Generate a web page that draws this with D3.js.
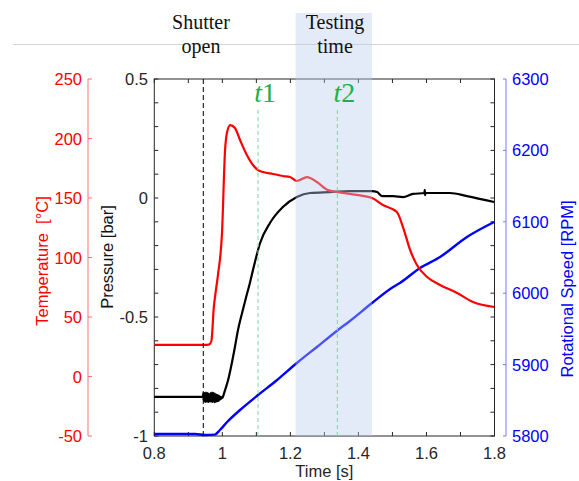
<!DOCTYPE html>
<html><head><meta charset="utf-8">
<script src="https://cdn.jsdelivr.net/npm/d3@7"></script>
<style>body{margin:0;background:#fff}svg{display:block}</style>
</head><body><svg id="c" width="579" height="481"></svg>
<script>
// ---- data ----
const tempT = [0.80,0.949,0.962,0.968,0.971,0.974,0.979,0.987,0.999,1.008,1.014,1.023,1.037,1.052,1.072,1.090,1.105,1.120,1.149,1.178,1.199,1.219,1.249,1.278,1.310,1.340,1.375,1.440,1.472,1.513,1.531,1.552,1.572,1.602,1.640,1.690,1.737,1.799];
const tempV = [26.5,26.5,27,30,40,55,68,85,120.6,190.3,205.5,211.3,208.8,198.7,186.1,177.7,173.5,171.8,170.2,168.5,167.6,164.3,167.6,163.4,156.7,155.0,153.4,150.0,144.1,138.2,125.6,106.3,93.7,83.6,76.9,70.2,62.6,58.4];

const presT = [0.80,0.943,0.944,0.945,0.946,0.947,0.948,0.949,0.950,0.951,0.952,0.953,0.954,0.955,0.956,0.957,0.958,0.959,0.960,0.961,0.962,0.963,0.964,0.965,0.966,0.967,0.968,0.969,0.970,0.971,0.972,0.973,0.974,0.975,0.976,0.977,0.978,0.979,0.980,0.981,0.982,0.983,0.984,0.985,0.986,0.987,0.988,0.989,0.990,0.991,0.992,0.993,0.994,0.995,0.996,0.997,0.998,1.000,1.003,1.008,1.017,1.028,1.037,1.046,1.058,1.070,1.081,1.090,1.111,1.140,1.178,1.219,1.258,1.316,1.375,1.440,1.455,1.469,1.502,1.531,1.560,1.594,1.595,1.596,1.597,1.669,1.719,1.799];
const presV = [-0.836,-0.836,-0.82,-0.85,-0.825,-0.855,-0.82,-0.852,-0.83,-0.857,-0.818,-0.85,-0.826,-0.856,-0.82,-0.853,-0.828,-0.857,-0.822,-0.852,-0.83,-0.855,-0.825,-0.85,-0.82,-0.856,-0.824,-0.853,-0.818,-0.857,-0.826,-0.852,-0.82,-0.855,-0.828,-0.858,-0.822,-0.853,-0.83,-0.856,-0.826,-0.852,-0.83,-0.854,-0.828,-0.85,-0.832,-0.852,-0.83,-0.848,-0.834,-0.847,-0.835,-0.845,-0.836,-0.843,-0.838,-0.84,-0.83,-0.807,-0.765,-0.693,-0.626,-0.555,-0.483,-0.416,-0.357,-0.303,-0.189,-0.105,-0.038,0.004,0.021,0.025,0.029,0.029,0.025,0.008,0.008,0.004,0.017,0.021,0.034,0.012,0.021,0.021,0.008,-0.017];

const rpmT = [0.80,0.92,0.949,0.978,0.993,1.014,1.052,1.105,1.161,1.219,1.278,1.340,1.375,1.440,1.502,1.522,1.581,1.640,1.719,1.799];
const rpmV = [5802.8,5802.8,5801.4,5802,5808.4,5819.6,5836.4,5857.4,5878.4,5902.2,5924.7,5948.5,5961.1,5986.3,6008.7,6014.3,6035.3,6050.7,6078.7,6099.7];

const xTicks = [0.8,1,1.2,1.4,1.6,1.8];
const xMinor = [0.8,0.9,1.0,1.1,1.2,1.3,1.4,1.5,1.6,1.7,1.8];
const pTicks = [0.5,0,-0.5,-1];
const pMinor = [0.5,0.4,0.3,0.2,0.1,0,-0.1,-0.2,-0.3,-0.4,-0.5,-0.6,-0.7,-0.8,-0.9,-1];
const tTicks = [250,200,150,100,50,0,-50];
const rTicks = [6300,6200,6100,6000,5900,5800];
const shutterT = 0.944, t1T = 1.105, t2T = 1.338;
const bandT = [1.215, 1.440];

// ---- scales ----
const svg = d3.select('#c');
const x = d3.scaleLinear().domain([0.8,1.8]).range([154.3,494.5]);
const yP = d3.scaleLinear().domain([-1,0.5]).range([436,79]);
const yT = d3.scaleLinear().domain([-50,250]).range([436,79]);
const yR = d3.scaleLinear().domain([5800,6300]).range([436,79]);
const sans = 'Liberation Sans, Arial, sans-serif';
const serif = 'Liberation Serif, Times New Roman, serif';
const axc = '#262626';

// top gray line
svg.append('line').attr('x1',13).attr('x2',579).attr('y1',44.5).attr('y2',44.5).attr('stroke','#d4d4d4').attr('stroke-width',1);

// plot box
svg.append('rect').attr('x',x(0.8)).attr('y',yP(0.5)).attr('width',x(1.8)-x(0.8)).attr('height',yP(-1)-yP(0.5))
  .attr('fill','none').attr('stroke',axc).attr('stroke-width',1);
// ticks
const tk = svg.append('g').attr('stroke',axc).attr('stroke-width',1);
xMinor.forEach(v=>{
  tk.append('line').attr('x1',x(v)).attr('x2',x(v)).attr('y1',yP(-1)).attr('y2',yP(-1)-4);
  tk.append('line').attr('x1',x(v)).attr('x2',x(v)).attr('y1',yP(0.5)).attr('y2',yP(0.5)+4);
});
pMinor.forEach(v=>{
  tk.append('line').attr('x1',x(0.8)).attr('x2',x(0.8)+4).attr('y1',yP(v)).attr('y2',yP(v));
  tk.append('line').attr('x1',x(1.8)).attr('x2',x(1.8)-4).attr('y1',yP(v)).attr('y2',yP(v));
});
// x labels
xTicks.forEach(v=>svg.append('text').attr('x',x(v)).attr('y',459).attr('text-anchor','middle')
  .attr('font-family',sans).attr('font-size',16.5).attr('fill',axc).text(String(v)));
svg.append('text').attr('x',(x(0.8)+x(1.8))/2).attr('y',477).attr('text-anchor','middle')
  .attr('font-family',sans).attr('font-size',16.5).attr('fill',axc).text('Time [s]');
// pressure labels
pTicks.forEach(v=>svg.append('text').attr('x',148).attr('y',yP(v)+6).attr('text-anchor','end')
  .attr('font-family',sans).attr('font-size',16.5).attr('fill',axc).text(String(v)));
svg.append('text').attr('transform','translate(113,257) rotate(-90)').attr('text-anchor','middle')
  .attr('font-family',sans).attr('font-size',16.5).attr('fill','#111').text('Pressure [bar]');

// temperature axis
const tx = 88;
svg.append('line').attr('x1',tx).attr('x2',tx).attr('y1',yT(250)).attr('y2',yT(-50)).attr('stroke','#ff7070').attr('stroke-width',1);
tTicks.forEach(v=>{
  svg.append('line').attr('x1',tx).attr('x2',tx+4).attr('y1',yT(v)).attr('y2',yT(v)).attr('stroke','#ff7070');
  svg.append('text').attr('x',82).attr('y',yT(v)+6).attr('text-anchor','end')
   .attr('font-family',sans).attr('font-size',16.5).attr('fill','#ff0000').text(String(v));
});
svg.append('text').attr('transform','translate(48,261) rotate(-90)').attr('text-anchor','middle')
  .attr('font-family',sans).attr('font-size',16.5).attr('fill','#ff0000').style('white-space','pre').text('Temperature  [°C]');

// rpm axis
const rx = 506;
svg.append('line').attr('x1',rx).attr('x2',rx).attr('y1',yR(6300)).attr('y2',yR(5800)).attr('stroke','#7878ff').attr('stroke-width',1);
rTicks.forEach(v=>{
  svg.append('line').attr('x1',rx).attr('x2',rx-3).attr('y1',yR(v)).attr('y2',yR(v)).attr('stroke','#7878ff');
  svg.append('text').attr('x',512).attr('y',yR(v)+6).attr('text-anchor','start')
   .attr('font-family',sans).attr('font-size',16.5).attr('fill','#0000ff').text(String(v));
});
svg.append('text').attr('transform','translate(573,289) rotate(-90)').attr('text-anchor','middle')
  .attr('font-family',sans).attr('font-size',16.5).attr('fill','#0000ff').text('Rotational Speed [RPM]');

// curves
const line = (ys)=>d3.line().x(d=>x(d[0])).y(d=>ys(d[1])).curve(d3.curveMonotoneX);
svg.append('path').datum(rpmT.map((t,i)=>[t,rpmV[i]])).attr('d',line(yR)).attr('fill','none').attr('stroke','#0000ff').attr('stroke-width',2.4);
svg.append('path').datum(presT.map((t,i)=>[t,presV[i]])).attr('d',line(yP)).attr('fill','none').attr('stroke','#000').attr('stroke-width',2.2).attr('stroke-linejoin','round');
svg.append('path').datum(tempT.map((t,i)=>[t,tempV[i]])).attr('d',line(yT)).attr('fill','none').attr('stroke','#ff0000').attr('stroke-width',2.2);

// shutter line
svg.append('line').attr('x1',x(shutterT)).attr('x2',x(shutterT)).attr('y1',yP(0.5)).attr('y2',yP(-1))
  .attr('stroke','#000').attr('stroke-width',1).attr('stroke-dasharray','5,3');

// band over curves
svg.append('rect').attr('x',x(bandT[0])).attr('y',13).attr('width',x(bandT[1])-x(bandT[0])).attr('height',yP(-1)-13)
  .attr('fill','rgb(185,205,238)').attr('fill-opacity',0.4);

// t1 t2 lines
[t1T,t2T].forEach(v=>svg.append('line').attr('x1',x(v)).attr('x2',x(v)).attr('y1',110).attr('y2',yP(-1))
  .attr('stroke','#7dd8a0').attr('stroke-width',1).attr('stroke-dasharray','4,3'));
[[t1T,'1'],[t2T,'2']].forEach(([v,s])=>{
  const t = svg.append('text').attr('x',x(v)+7).attr('y',102).attr('text-anchor','middle')
   .attr('font-family',serif).attr('font-size',28).attr('fill','#1fb04a');
  t.append('tspan').attr('font-style','italic').text('t');
  t.append('tspan').text(s);
});

// annotations
const ann = (cx,l1,l2)=>{
  svg.append('text').attr('x',cx).attr('y',29).attr('text-anchor','middle').attr('font-family',serif).attr('font-size',20).attr('fill','#111').text(l1);
  svg.append('text').attr('x',cx).attr('y',53).attr('text-anchor','middle').attr('font-family',serif).attr('font-size',20).attr('fill','#111').text(l2);
};
ann(201,'Shutter','open');
ann(335,'Testing','time');
</script></body></html>
